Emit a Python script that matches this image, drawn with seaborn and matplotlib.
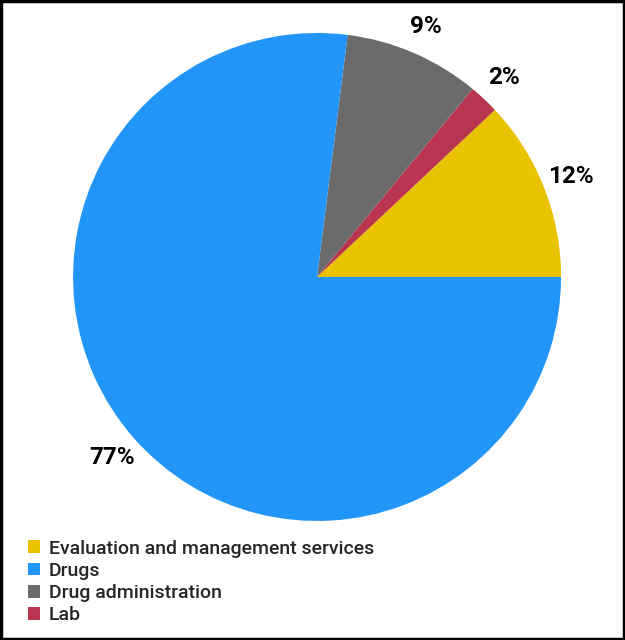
import matplotlib
matplotlib.use("Agg")
import matplotlib.pyplot as plt
import seaborn as sns
from matplotlib.patches import Patch

# data, in the order the slices go counterclockwise from 3 o'clock
slice_labels = ["Evaluation and management services", "Lab", "Drug administration", "Drugs"]
slice_values = [12, 2, 9, 77]
slice_colors = ["#EAC300", "#B8344F", "#6B6B6B", "#2196F8"]

# legend order as in the picture
legend_order = ["Evaluation and management services", "Drugs", "Drug administration", "Lab"]

sns.set_theme(style="white")
plt.rcParams["font.family"] = ["Roboto", "DejaVu Sans"]

fig = plt.figure(figsize=(6.25, 6.4), dpi=100)
ax = fig.add_axes([0.1168, 0.186, 0.781, 0.7625])

wedges, texts, autotexts = ax.pie(
    slice_values,
    colors=slice_colors,
    startangle=0,
    counterclock=True,
    autopct=lambda p: f"{p:.0f}%",
    pctdistance=1.12,
    wedgeprops=dict(linewidth=0),
    textprops=dict(fontsize=17.5, fontweight="bold", color="black"),
)
ax.set_xlim(-1, 1)
ax.set_ylim(-1, 1)
ax.set_aspect("equal")

color_of = dict(zip(slice_labels, slice_colors))
handles = [Patch(facecolor=color_of[n], edgecolor="none", label=n) for n in legend_order]
fig.legend(handles=handles, loc="upper left", bbox_to_anchor=(0.0448, 0.157),
           frameon=False, prop=dict(size=14, weight="medium"),
           handlelength=0.62, handleheight=0.62,
           handletextpad=0.46, labelspacing=0.22, borderaxespad=0, borderpad=0)

# frame around the figure
fig.patches.append(plt.Rectangle((0.002, 0.002), 0.996, 0.996, transform=fig.transFigure,
                                 fill=False, edgecolor="black", linewidth=2.5))

fig.savefig("out.png", dpi=100)
